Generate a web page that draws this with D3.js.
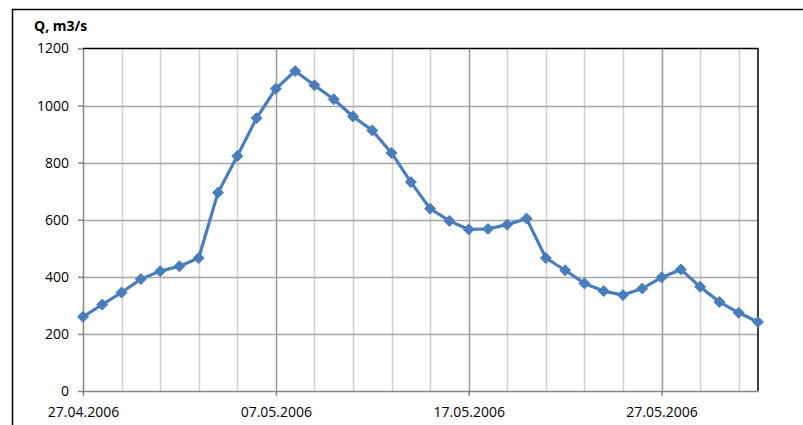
<!DOCTYPE html>
<html>
<head>
<meta charset="utf-8">
<script src="https://cdn.jsdelivr.net/npm/d3@7"></script>
<style>
  html, body { margin: 0; padding: 0; background: #fff; }
  svg text { font-family: "Open Sans", "Liberation Sans", Arial, sans-serif; fill: #000; }
</style>
</head>
<body>
<svg id="chart" width="803" height="425"></svg>
<script>
// Daily discharge, 27.04.2006 – 01.06.2006
const dates = [
  "27.04.2006","28.04.2006","29.04.2006","30.04.2006","01.05.2006","02.05.2006",
  "03.05.2006","04.05.2006","05.05.2006","06.05.2006","07.05.2006","08.05.2006",
  "09.05.2006","10.05.2006","11.05.2006","12.05.2006","13.05.2006","14.05.2006",
  "15.05.2006","16.05.2006","17.05.2006","18.05.2006","19.05.2006","20.05.2006",
  "21.05.2006","22.05.2006","23.05.2006","24.05.2006","25.05.2006","26.05.2006",
  "27.05.2006","28.05.2006","29.05.2006","30.05.2006","31.05.2006","01.06.2006"
];
const discharge = [
  260, 303, 345, 392, 420, 437, 466, 695, 823, 956, 1059, 1121,
  1071, 1022, 962, 913, 834, 732, 639, 596, 566, 568, 583, 604,
  466, 423, 377, 350, 336, 359, 398, 426, 365, 312, 274, 242
];
const xTickLabels = ["27.04.2006", "07.05.2006", "17.05.2006", "27.05.2006"];
const yTicks = [0, 200, 400, 600, 800, 1000, 1200];
const yTitle = "Q, m3/s";

const parse = d3.utcParse("%d.%m.%Y");
const data = dates.map((d, i) => ({ date: parse(d), q: discharge[i] }));

const svg = d3.select("#chart");
const plotL = 83, plotR = 758, plotT = 48.5, plotB = 391;
const font = "Open Sans, Liberation Sans, Arial, sans-serif";

const x = d3.scaleUtc()
  .domain([parse(dates[0]), parse(dates[dates.length - 1])])
  .range([plotL, plotR]);
const y = d3.scaleLinear().domain([0, 1200]).range([plotB, plotT]);

// outer frame (left and top edges)
svg.append("path")
  .attr("d", `M12.5,425 V9.5 H803`)
  .attr("fill", "none").attr("stroke", "#000").attr("stroke-width", 1.5);

// minor vertical grid every 2 days
const firstDay = parse(dates[0]);
const lastDay = parse(dates[dates.length - 1]);
const minorDays = d3.utcDay.every(2).range(firstDay, lastDay)
  .filter(d => +d > +firstDay);
const majorDates = xTickLabels.map(parse);
svg.append("g").selectAll("line")
  .data(minorDays.filter(d => !majorDates.some(m => +m === +d)))
  .join("line")
  .attr("x1", d => Math.round(x(d)) + 0.5).attr("x2", d => Math.round(x(d)) + 0.5)
  .attr("y1", plotT).attr("y2", plotB)
  .attr("stroke", "#cfcfcf").attr("stroke-width", 1.5);

// major vertical grid
svg.append("g").selectAll("line")
  .data(majorDates.slice(1))
  .join("line")
  .attr("x1", d => Math.round(x(d)) + 0.5).attr("x2", d => Math.round(x(d)) + 0.5)
  .attr("y1", plotT).attr("y2", plotB)
  .attr("stroke", "#9a9a9a").attr("stroke-width", 1.5);

// horizontal grid
svg.append("g").selectAll("line")
  .data(yTicks.slice(1, -1))
  .join("line")
  .attr("x1", plotL).attr("x2", plotR)
  .attr("y1", d => Math.round(y(d)) + 0.5).attr("y2", d => Math.round(y(d)) + 0.5)
  .attr("stroke", "#a6a6a6").attr("stroke-width", 1.5);

// plot area border: top and right in black
svg.append("path")
  .attr("d", `M${plotL},${plotT} H${plotR} V${plotB}`)
  .attr("fill", "none").attr("stroke", "#000").attr("stroke-width", 1.5);

// y axis
const yAxis = d3.axisLeft(y).tickValues(yTicks).tickFormat(d3.format("d"))
  .tickSize(5).tickSizeOuter(0).tickPadding(9);
const gy = svg.append("g").attr("transform", `translate(${plotL},0)`).call(yAxis);
gy.select(".domain").attr("stroke", "#868686").attr("stroke-width", 1.5);
gy.selectAll(".tick line").attr("stroke", "#868686").attr("stroke-width", 1.5);
gy.selectAll(".tick text")
  .attr("font-size", 14).attr("font-family", font).attr("fill", "#000");

// x axis
const xAxis = d3.axisBottom(x).tickValues(majorDates).tickSize(5).tickSizeOuter(0)
  .tickPadding(11).tickFormat(d3.utcFormat("%d.%m.%Y"));
const gx = svg.append("g").attr("transform", `translate(0,${plotB})`).call(xAxis);
gx.select(".domain").attr("stroke", "#868686").attr("stroke-width", 1.5);
gx.selectAll(".tick line").attr("stroke", "#868686").attr("stroke-width", 1.5);
gx.selectAll(".tick text")
  .attr("font-size", 14).attr("font-family", font).attr("fill", "#000");

// axis title
svg.append("text")
  .attr("x", 34).attr("y", 31)
  .attr("font-size", 14).attr("font-weight", "bold").attr("font-family", font)
  .text(yTitle);

// series line
const line = d3.line().x(d => x(d.date)).y(d => y(d.q));
svg.append("path")
  .datum(data)
  .attr("d", line)
  .attr("fill", "none")
  .attr("stroke", "#4a7ebb")
  .attr("stroke-width", 3.2)
  .attr("stroke-linejoin", "round");

// diamond markers
const r = 5.5;
svg.append("g").selectAll("path")
  .data(data)
  .join("path")
  .attr("d", d => {
    const cx = x(d.date), cy = y(d.q);
    return `M${cx},${cy - r}L${cx + r},${cy}L${cx},${cy + r}L${cx - r},${cy}Z`;
  })
  .attr("fill", "#4a7ebb")
  .attr("stroke", "#4a7ebb")
  .attr("stroke-width", 1);
</script>
</body>
</html>
